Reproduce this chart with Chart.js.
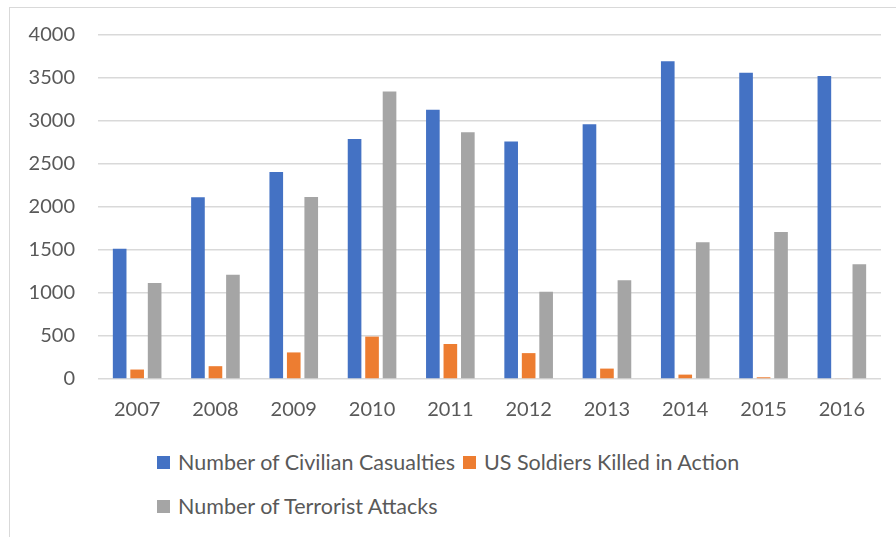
<!DOCTYPE html>
<html>
<head>
<meta charset="utf-8">
<script src="https://cdn.jsdelivr.net/npm/chart.js@4/dist/chart.umd.min.js"></script>
<style>
  html, body { margin: 0; padding: 0; background: #fff; }
  body { width: 896px; height: 537px; position: relative; overflow: hidden; font-family: Lato, sans-serif; }
  .frame { position: absolute; left: 9px; top: 7px; width: 900px; height: 540px; border: 1px solid #d9d9d9; }
  .wrap { position: absolute; left: 0; top: 0; width: 896px; height: 433px; }
  .legend { position: absolute; left: 157px; top: 440px; color: #595959; font-size: 21.5px; }
  .legend .row { height: 44px; display: flex; align-items: center; }
  .legend .item { display: flex; align-items: center; margin-right: 8px; }
  .legend .box { width: 13px; height: 13px; margin-right: 8px; }
</style>
</head>
<body>
<div class="frame"></div>
<div class="wrap"><canvas id="chart"></canvas></div>
<div class="legend" id="legend"></div>
<script>
// values
const years = ['2007', '2008', '2009', '2010', '2011', '2012', '2013', '2014', '2015', '2016'];
const civilianCasualties = [1515, 2113, 2407, 2790, 3131, 2763, 2963, 3695, 3562, 3523];
const soldiersKilled = [110, 149, 309, 493, 407, 301, 121, 51, 20, 8];
const terroristAttacks = [1115, 1213, 2117, 3342, 2869, 1014, 1147, 1589, 1710, 1335];

const seriesNames = ['Number of Civilian Casualties', 'US Soldiers Killed in Action', 'Number of Terrorist Attacks'];
const seriesColors = ['#4472C4', '#ED7D31', '#A5A5A5'];

const tickFont = { family: 'Lato', size: 20 };
const textColor = '#595959';

const ctx = document.getElementById('chart').getContext('2d');
const chart = new Chart(ctx, {
    type: 'bar',
    data: {
        labels: years,
        datasets: [civilianCasualties, soldiersKilled, terroristAttacks].map((data, i) => ({
            label: seriesNames[i],
            data: data,
            backgroundColor: seriesColors[i],
            categoryPercentage: 0.67,
            barPercentage: 0.78
        }))
    },
    options: {
        responsive: true,
        maintainAspectRatio: false,
        animation: false,
        layout: { padding: { top: 29, right: 15, left: 0, bottom: 0 } },
        plugins: {
            legend: { display: false },
            tooltip: { enabled: false }
        },
        scales: {
            x: {
                grid: { display: false },
                border: { display: false },
                ticks: { color: textColor, font: tickFont, padding: 11 }
            },
            y: {
                min: 0,
                max: 4000,
                ticks: {
                    stepSize: 500,
                    color: textColor,
                    font: tickFont,
                    padding: 23,
                    callback: (v) => String(v)
                },
                grid: { color: '#d9d9d9', lineWidth: 1.5, drawTicks: false },
                border: { display: false },
                afterFit: (scale) => { scale.width = 98; }
            }
        }
    }
});

// legend laid out in two rows like the original
const legendRows = [[0, 1], [2]];
const legendEl = document.getElementById('legend');
legendRows.forEach(row => {
    const rowEl = document.createElement('div');
    rowEl.className = 'row';
    row.forEach(i => {
        const item = document.createElement('div');
        item.className = 'item';
        const box = document.createElement('span');
        box.className = 'box';
        box.style.background = seriesColors[i];
        const label = document.createElement('span');
        label.textContent = seriesNames[i];
        item.appendChild(box);
        item.appendChild(label);
        rowEl.appendChild(item);
    });
    legendEl.appendChild(rowEl);
});
</script>
</body>
</html>
